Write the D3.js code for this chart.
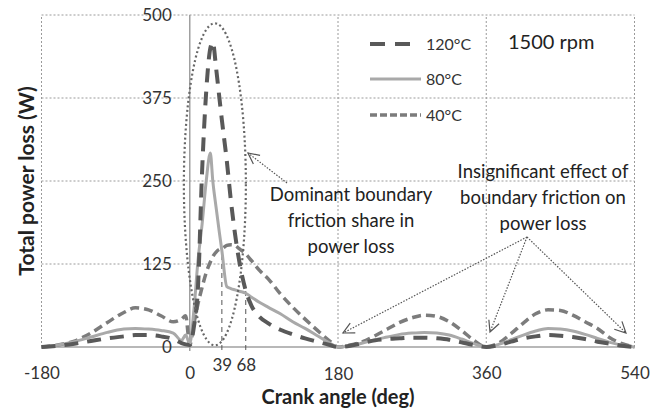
<!DOCTYPE html>
<html><head><meta charset="utf-8">
<script src="https://cdn.jsdelivr.net/npm/d3@7"></script>
<style>
body{margin:0;background:#fff;}
svg{display:block;font-family:Lato,"Open Sans",sans-serif;}
</style></head>
<body><svg id="c" width="658" height="408"></svg>
<script>
// ---- data ----
const angles = [-180,-160,-140,-120,-100,-80,-66,-50,-35,-20,-10,-5,0,5,10,15,20,25,28,32,36,39,45,50,55,60,68,75,85,95,110,125,140,155,170,180,
  195,210,225,240,255,270,285,300,315,330,345,360,
  375,390,405,420,435,450,465,480,495,510,525,540];
const loss120 = [0,2,5,9,13,16,18,18,16,12,6,4,3,30,90,265,385,450,459,420,375,342,280,220,170,130,85,62,45,36,26,19,13,8,3,0,
  2,6,10,12,13,14,14,13,11,7,3,0,
  3,8,13,16,18,17,15,12,8,5,2,0];
const loss80 = [0,3,8,15,22,27,28,27,25,21,10,18,5,55,130,185,250,292,250,210,172,145,91,88,86,84,81,75,67,60,50,38,28,17,6,0,
  2,6,11,15,19,21,22,21,18,12,5,0,
  4,11,18,24,28,27,24,19,13,7,3,0];
const loss40 = [0,3,9,21,37,52,59,56,47,38,42,47,3,35,65,90,112,128,136,143,147,148,153,154,153,148,140,130,115,103,80,60,42,25,9,0,
  3,8,17,27,37,44,48,46,38,25,10,0,
  6,20,36,50,56,55,48,38,28,14,5,0];
const seriesNames = ["120°C","80°C","40°C"];
const yTicks = [0,125,250,375,500];
const xTicks = [-180,0,39,68,180,360,540];
const xGrid = [-180,180,360,540];
const markAngles = [39,68];
const markTops = [146,86];

// ---- chart ----
const svg = d3.select("#c");
const x = d3.scaleLinear().domain([-180,540]).range([41.5,634.5]);
const y = d3.scaleLinear().domain([0,500]).range([347,15]);

// gridlines
svg.append("g").selectAll("line").data(yTicks.filter(d=>d>0)).join("line")
  .attr("x1",x(-180)).attr("x2",x(540)).attr("y1",d=>y(d)).attr("y2",d=>y(d))
  .attr("stroke","#9a9a9a").attr("stroke-width",1).attr("stroke-dasharray","2,2");
svg.append("g").selectAll("line").data(xGrid).join("line")
  .attr("x1",d=>x(d)).attr("x2",d=>x(d)).attr("y1",y(0)).attr("y2",y(500))
  .attr("stroke","#9a9a9a").attr("stroke-width",1).attr("stroke-dasharray","2,2");
// axis lines
svg.append("line").attr("x1",x(-180)).attr("x2",x(540)).attr("y1",y(0)).attr("y2",y(0))
  .attr("stroke","#a0a0a0").attr("stroke-width",1.5);
svg.append("line").attr("x1",x(0)).attr("x2",x(0)).attr("y1",y(0)+4).attr("y2",y(500))
  .attr("stroke","#a0a0a0").attr("stroke-width",1.5);

// y tick labels
const yAxis = svg.append("g").attr("transform",`translate(${x(0)},0)`)
  .call(d3.axisLeft(y).tickValues(yTicks).tickSize(0).tickPadding(18).tickFormat(d=>String(d)));
yAxis.select(".domain").remove();
yAxis.selectAll("text").attr("font-size",17).attr("fill","#333").attr("font-family","Lato");

// x tick labels
const xAxis = svg.append("g").attr("transform",`translate(0,${y(0)})`)
  .call(d3.axisBottom(x).tickValues(xTicks).tickSize(0).tickPadding(20).tickFormat(d=>String(d)));
xAxis.select(".domain").remove();
xAxis.selectAll("text").attr("font-size",17).attr("fill","#333").attr("font-family","Lato")
  .attr("dy",d=> d===39||d===68 ? "0.25em" : (d===180 ? "0.75em" : "0.71em"));

// marker dashed verticals
svg.append("g").selectAll("line").data(markAngles).join("line")
  .attr("x1",d=>x(d)).attr("x2",d=>x(d)).attr("y1",y(0)+3)
  .attr("y2",(d,i)=>y(markTops[i]))
  .attr("stroke","#555").attr("stroke-width",1).attr("stroke-dasharray","5,4");

// series
const styles = [
  {data:loss120,color:"#595959",w:4,dash:"14,9"},
  {data:loss80,color:"#a9a9a9",w:3,dash:null},
  {data:loss40,color:"#7c7c7c",w:3.5,dash:"9,5"}
];
const line = d3.line().x(d=>x(d[0])).y(d=>y(d[1])).curve(d3.curveMonotoneX);
[2,1,0].forEach(i=>{
  const s = styles[i];
  svg.append("path").datum(angles.map((a,k)=>[a,s.data[k]]))
    .attr("d",line).attr("fill","none").attr("stroke",s.color).attr("stroke-width",s.w)
    .attr("stroke-dasharray",s.dash).attr("stroke-linejoin","round");
});

// legend
const legY = [44,79,115];
seriesNames.forEach((n,i)=>{
  const s = styles[i];
  svg.append("line").attr("x1",370).attr("x2",i===0?412:421).attr("y1",legY[i]).attr("y2",legY[i])
    .attr("stroke",s.color).attr("stroke-width",s.w).attr("stroke-dasharray",i===0?"15,10":(i===2?"7,3":null));
  svg.append("text").attr("x",426).attr("y",legY[i]).attr("dy","0.35em").attr("font-size",16)
    .attr("fill","#333").text(n);
});
svg.append("text").attr("x",508).attr("y",42).attr("dy","0.35em").attr("font-size",20)
  .attr("fill","#222").text("1500 rpm");

// axis titles
svg.append("text").attr("transform","translate(27,181) rotate(-90)").attr("text-anchor","middle")
  .attr("dy","0.35em").attr("font-size",21).attr("font-weight","bold").attr("fill","#222")
  .text("Total power loss (W)");
svg.append("text").attr("x",338).attr("y",404).attr("text-anchor","middle")
  .attr("font-size",20).attr("font-weight","bold").attr("fill","#222").text("Crank angle (deg)");

// ellipse annotation
svg.append("ellipse").attr("cx",x(30.5)).attr("cy",y(245)).attr("rx",31).attr("ry",161)
  .attr("fill","none").attr("stroke","#666").attr("stroke-width",2.2).attr("stroke-dasharray","2,2.6");

// arrows
const defs = svg.append("defs");
defs.append("marker").attr("id","vh").attr("markerUnits","userSpaceOnUse")
  .attr("markerWidth",14).attr("markerHeight",14).attr("refX",0).attr("refY",0)
  .attr("viewBox","-12 -7 14 14").attr("orient","auto")
  .append("path").attr("d","M-11,-5.5 L0,0 L-11,5.5").attr("fill","none").attr("stroke","#555").attr("stroke-width",1.2);
const arrows = [[287,183,248,153],[527,237,343,333],[527,237,490,332],[527,237,626,333]];
svg.append("g").selectAll("line").data(arrows).join("line")
  .attr("x1",d=>d[0]).attr("y1",d=>d[1]).attr("x2",d=>d[2]).attr("y2",d=>d[3])
  .attr("stroke","#555").attr("stroke-width",1.2).attr("stroke-dasharray","1.5,1.5")
  .attr("marker-end","url(#vh)");

// annotation text
const ann1 = ["Dominant boundary","friction share in","power loss"];
ann1.forEach((t,i)=>svg.append("text").attr("x",351).attr("y",195+i*26).attr("dy","0.35em")
  .attr("text-anchor","middle").attr("font-size",18.5).attr("fill","#222").text(t));
const ann2 = ["Insignificant effect of","boundary friction on","power loss"];
ann2.forEach((t,i)=>svg.append("text").attr("x",543).attr("y",172+i*26).attr("dy","0.35em")
  .attr("text-anchor","middle").attr("font-size",18.5).attr("fill","#222").text(t));
</script>
</body></html>
